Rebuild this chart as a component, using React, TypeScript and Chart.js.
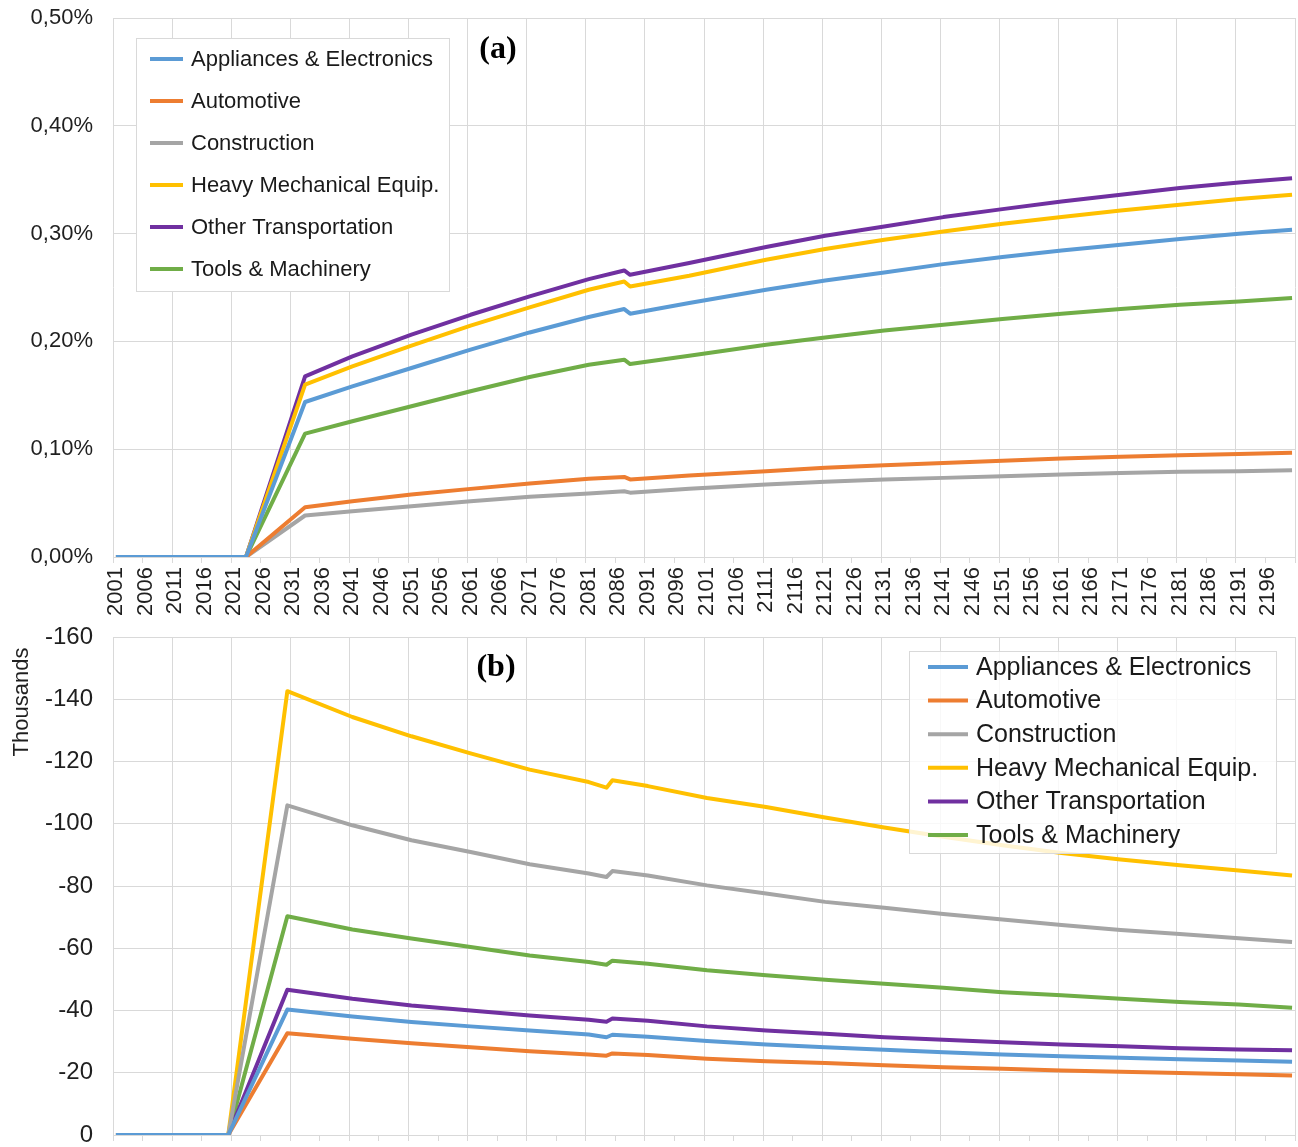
import React, { useEffect, useRef } from 'react';
import { Chart, registerables } from 'chart.js';

Chart.register(...registerables);

// ---------- data ----------
const SERIES_NAMES = [
  'Appliances & Electronics',
  'Automotive',
  'Construction',
  'Heavy Mechanical Equip.',
  'Other Transportation',
  'Tools & Machinery',
];
const SERIES_COLORS = ['#5B9BD5', '#ED7D31', '#A5A5A5', '#FFC000', '#7030A0', '#70AD47'];

// category axis: one slot per year
const YEAR_LABELS = Array.from({ length: 200 }, (_, i) => String(2001 + i));

// (a) share, in percent
const A_YEARS = [2001, 2023, 2033, 2041, 2051, 2061, 2071, 2081, 2087, 2088, 2098, 2111, 2121, 2131, 2141, 2151, 2161, 2171, 2181, 2191, 2200];
const A_APPLIANCES = [0, 0, 0.1438, 0.1583, 0.1753, 0.1923, 0.2083, 0.2226, 0.2300, 0.2257, 0.2356, 0.2479, 0.2565, 0.2640, 0.2717, 0.2782, 0.2843, 0.2896, 0.2949, 0.2998, 0.3035];
const A_AUTOMOTIVE = [0, 0, 0.0462, 0.0517, 0.0579, 0.0632, 0.0681, 0.0725, 0.0743, 0.0720, 0.0755, 0.0795, 0.0827, 0.0851, 0.0873, 0.0894, 0.0913, 0.0929, 0.0943, 0.0956, 0.0966];
const A_CONSTRUCTION = [0, 0, 0.0385, 0.0424, 0.0471, 0.0517, 0.0558, 0.0588, 0.0610, 0.0597, 0.0632, 0.0672, 0.0697, 0.0718, 0.0734, 0.0749, 0.0765, 0.0780, 0.0790, 0.0795, 0.0804];
const A_HEAVY = [0, 0, 0.1599, 0.1768, 0.1960, 0.2146, 0.2315, 0.2479, 0.2556, 0.2510, 0.2609, 0.2757, 0.2857, 0.2943, 0.3019, 0.3091, 0.3153, 0.3214, 0.3267, 0.3320, 0.3360];
const A_OTHER = [0, 0, 0.1676, 0.1861, 0.2062, 0.2247, 0.2417, 0.2578, 0.2658, 0.2618, 0.2727, 0.2875, 0.2980, 0.3066, 0.3153, 0.3227, 0.3298, 0.3360, 0.3422, 0.3474, 0.3514];
const A_TOOLS = [0, 0, 0.1145, 0.1259, 0.1398, 0.1537, 0.1670, 0.1784, 0.1830, 0.1790, 0.1867, 0.1969, 0.2037, 0.2102, 0.2155, 0.2208, 0.2257, 0.2300, 0.2340, 0.2371, 0.2402];

// (b) thousands
const B_YEARS = [2001, 2020, 2030, 2041, 2051, 2061, 2071, 2081, 2084, 2085, 2091, 2101, 2111, 2121, 2131, 2141, 2151, 2161, 2171, 2181, 2191, 2200];
const B_APPLIANCES = [0, 0, -40.3, -38.1, -36.3, -34.9, -33.6, -32.3, -31.4, -32.2, -31.6, -30.2, -29.1, -28.2, -27.4, -26.6, -25.9, -25.3, -24.8, -24.3, -23.9, -23.5];
const B_AUTOMOTIVE = [0, 0, -32.7, -30.9, -29.5, -28.2, -26.9, -25.9, -25.5, -26.2, -25.7, -24.5, -23.7, -23.1, -22.4, -21.8, -21.3, -20.7, -20.3, -19.9, -19.5, -19.1];
const B_CONSTRUCTION = [0, 0, -105.9, -99.5, -94.7, -90.9, -87.0, -84.0, -82.9, -84.8, -83.4, -80.2, -77.6, -74.9, -73.0, -71.0, -69.2, -67.5, -65.9, -64.6, -63.2, -62.0];
const B_HEAVY = [0, 0, -142.6, -134.3, -128.1, -122.6, -117.4, -113.4, -111.6, -114.0, -112.1, -108.3, -105.4, -102.0, -98.8, -95.8, -93.1, -90.6, -88.5, -86.7, -85.0, -83.4];
const B_OTHER = [0, 0, -46.7, -43.8, -41.6, -40.0, -38.4, -37.0, -36.4, -37.4, -36.7, -34.9, -33.6, -32.5, -31.4, -30.6, -29.8, -29.1, -28.5, -27.9, -27.5, -27.2];
const B_TOOLS = [0, 0, -70.3, -66.0, -63.1, -60.4, -57.7, -55.6, -54.7, -56.0, -55.0, -52.9, -51.3, -49.9, -48.6, -47.3, -45.9, -44.9, -43.8, -42.7, -41.9, -40.9];

const B_AXIS_TITLE = 'Thousands';

// ---------- styling ----------
const GRID = '#d9d9d9';
const TEXT = '#1f1f1f';
const SANS = '"Liberation Sans", Arial, sans-serif';
const SERIF = '"Liberation Serif", "Times New Roman", serif';
Chart.defaults.font.family = SANS;

function makeDatasets(years: number[], series: number[][]) {
  return SERIES_NAMES.map((name, k) => ({
    label: name,
    data: years.map((yr, i) => ({ x: String(yr), y: series[k][i] })),
    borderColor: SERIES_COLORS[k],
    backgroundColor: SERIES_COLORS[k],
    borderWidth: 4,
    pointRadius: 0,
    pointHoverRadius: 0,
    tension: 0,
    fill: false,
    borderJoinStyle: 'round' as const,
  }));
}

function xScale(showLabels: boolean, height: number) {
  return {
    type: 'category' as const,
    labels: YEAR_LABELS,
    offset: true,
    grid: {
      offset: true,
      color: (c: any) => (c.index === undefined || c.index % 10 === 0 ? GRID : 'rgba(0,0,0,0)'),
      tickColor: (c: any) => (c.index === undefined || c.index % 5 === 0 ? GRID : 'rgba(0,0,0,0)'),
      tickLength: 6,
      lineWidth: 1,
    },
    border: { color: GRID, width: 1 },
    ticks: {
      display: showLabels,
      autoSkip: false,
      minRotation: 90,
      maxRotation: 90,
      padding: 4,
      color: TEXT,
      font: { size: 22 },
      callback: (_v: any, i: number) => (i % 5 === 0 ? YEAR_LABELS[i] : ''),
    },
    afterFit: (s: any) => {
      s.height = height;
      s.paddingLeft = 0;
      s.paddingRight = 0;
      s.paddingTop = 0;
      s.paddingBottom = 0;
    },
  };
}

function overlayPlugin(id: string, cfg: any) {
  return {
    id,
    afterDraw(chart: any) {
      const ctx = chart.ctx;
      ctx.save();
      // panel tag
      ctx.font = `bold ${cfg.tagSize}px ${SERIF}`;
      ctx.fillStyle = '#000';
      ctx.textAlign = 'center';
      ctx.textBaseline = 'middle';
      ctx.fillText(cfg.tag, cfg.tagX, cfg.tagY);
      // optional rotated axis title
      if (cfg.axisTitle) {
        ctx.save();
        ctx.translate(cfg.axisTitleX, cfg.axisTitleY);
        ctx.rotate(-Math.PI / 2);
        ctx.font = `${cfg.axisTitleSize}px ${SANS}`;
        ctx.fillStyle = TEXT;
        ctx.textAlign = 'center';
        ctx.textBaseline = 'middle';
        ctx.fillText(cfg.axisTitle, 0, 0);
        ctx.restore();
      }
      // legend box
      ctx.fillStyle = cfg.fill;
      ctx.fillRect(cfg.x, cfg.y, cfg.w, cfg.h);
      ctx.strokeStyle = GRID;
      ctx.lineWidth = 1;
      ctx.strokeRect(cfg.x + 0.5, cfg.y + 0.5, cfg.w, cfg.h);
      ctx.font = `${cfg.fontSize}px ${SANS}`;
      ctx.textAlign = 'left';
      ctx.textBaseline = 'middle';
      SERIES_NAMES.forEach((name, i) => {
        const cy = cfg.row0 + i * cfg.rowGap;
        ctx.strokeStyle = SERIES_COLORS[i];
        ctx.lineWidth = 4;
        ctx.beginPath();
        ctx.moveTo(cfg.lineX0, cy);
        ctx.lineTo(cfg.lineX1, cy);
        ctx.stroke();
        ctx.fillStyle = '#1a1a1a';
        ctx.fillText(name, cfg.textX, cy + 1);
      });
      ctx.restore();
    },
  };
}

export default function App() {
  const topRef = useRef<HTMLCanvasElement>(null);
  const botRef = useRef<HTMLCanvasElement>(null);

  useEffect(() => {
    const topChart = new Chart(topRef.current as HTMLCanvasElement, {
      type: 'line',
      data: {
        labels: YEAR_LABELS,
        datasets: makeDatasets(A_YEARS, [A_APPLIANCES, A_AUTOMOTIVE, A_CONSTRUCTION, A_HEAVY, A_OTHER, A_TOOLS]) as any,
      },
      options: {
        responsive: false,
        animation: false,
        events: [],
        layout: { padding: { top: 18, right: 3, left: 0, bottom: 0 } },
        plugins: { legend: { display: false }, tooltip: { enabled: false } },
        scales: {
          x: xScale(true, 65) as any,
          y: {
            min: 0,
            max: 0.5,
            grid: { color: GRID, drawTicks: false, lineWidth: 1 },
            border: { display: false },
            ticks: {
              stepSize: 0.1,
              padding: 20,
              color: TEXT,
              font: { size: 22 },
              callback: (v: any) => Number(v).toFixed(2).replace('.', ',') + '%',
            },
            afterFit: (s: any) => {
              s.width = 113;
              s.paddingTop = 0;
              s.paddingBottom = 0;
              s.paddingLeft = 0;
              s.paddingRight = 0;
            },
          },
        },
      },
      plugins: [
        overlayPlugin('legendA', {
          tag: '(a)', tagSize: 32, tagX: 498, tagY: 50,
          fill: '#ffffff',
          x: 136, y: 38, w: 313, h: 253,
          row0: 59, rowGap: 42,
          lineX0: 150, lineX1: 183, textX: 191, fontSize: 22,
        }),
      ],
    });

    const botChart = new Chart(botRef.current as HTMLCanvasElement, {
      type: 'line',
      data: {
        labels: YEAR_LABELS,
        datasets: makeDatasets(B_YEARS, [B_APPLIANCES, B_AUTOMOTIVE, B_CONSTRUCTION, B_HEAVY, B_OTHER, B_TOOLS]) as any,
      },
      options: {
        responsive: false,
        animation: false,
        events: [],
        layout: { padding: { top: 15, right: 3, left: 0, bottom: 0 } },
        plugins: { legend: { display: false }, tooltip: { enabled: false } },
        scales: {
          x: xScale(false, 12) as any,
          y: {
            min: -160,
            max: 0,
            reverse: true,
            grid: { color: GRID, drawTicks: false, lineWidth: 1 },
            border: { display: false },
            ticks: {
              stepSize: 20,
              padding: 20,
              color: TEXT,
              font: { size: 24 },
            },
            afterFit: (s: any) => {
              s.width = 113;
              s.paddingTop = 0;
              s.paddingBottom = 0;
              s.paddingLeft = 0;
              s.paddingRight = 0;
            },
          },
        },
      },
      plugins: [
        overlayPlugin('legendB', {
          tag: '(b)', tagSize: 32, tagX: 496, tagY: 46,
          axisTitle: B_AXIS_TITLE, axisTitleX: 22, axisTitleY: 80, axisTitleSize: 22,
          fill: 'rgba(255,255,255,0.82)',
          x: 909, y: 29, w: 367, h: 202,
          row0: 45, rowGap: 33.6,
          lineX0: 928, lineX1: 968, textX: 976, fontSize: 25,
        }),
      ],
    });

    return () => {
      topChart.destroy();
      botChart.destroy();
    };
  }, []);

  return (
    <div style={{ position: 'absolute', left: 0, top: 0, width: 1298, height: 1147, background: '#ffffff' }}>
      <canvas ref={topRef} width={1298} height={622} style={{ display: 'block' }} />
      <canvas ref={botRef} width={1298} height={525} style={{ display: 'block' }} />
    </div>
  );
}
